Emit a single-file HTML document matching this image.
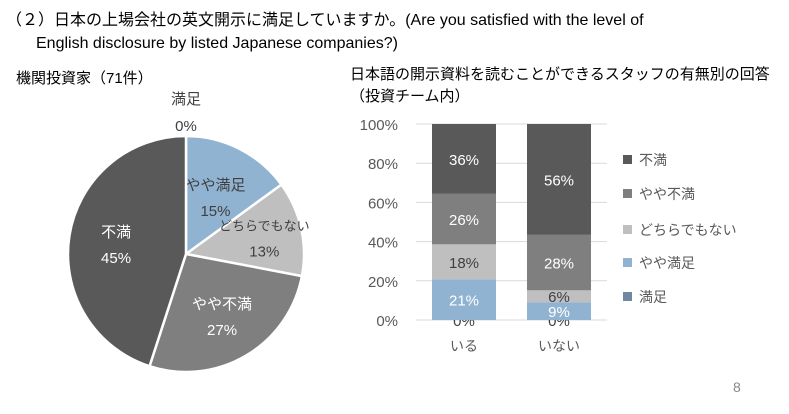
<!DOCTYPE html>
<html><head><meta charset="utf-8"><style>
body{margin:0;width:789px;height:414px;background:#fff;overflow:hidden;font-family:"Liberation Sans","Noto Sans CJK JP",sans-serif;}
.t{position:absolute;white-space:nowrap;color:#000;}
</style></head><body>
<div class="t" style="left:6px;top:9px;font-size:16px;line-height:23px;">（２）日本の上場会社の英文開示に満足していますか。(Are you satisfied with the level of<br><span style="padding-left:30px">English disclosure by listed Japanese companies?)</span></div>
<div class="t" style="left:16px;top:67px;font-size:15px;">機関投資家（71件）</div>
<div class="t" style="left:350px;top:64px;font-size:15px;line-height:22px;">日本語の開示資料を読むことができるスタッフの有無別の回答<br>（投資チーム内）</div>
<div class="t" style="left:733px;top:379px;font-size:14px;color:#888;">8</div>
<svg id="c" width="789" height="414" style="position:absolute;left:0;top:0"></svg>
<script>
const cats=["満足","やや満足","どちらでもない","やや不満","不満"];
const colors=["#6f87a0","#91b3d2","#bfbfbf","#7f7f7f","#595959"];
const pieValues=[0,15,13,27,45];
const barCats=["いる","いない"];
const barValues=[[0,21,18,26,36],[0,9,6,28,56]];
const yTicks=[0,20,40,60,80,100];
const NS="http://www.w3.org/2000/svg";
const svg=document.getElementById("c");
function mk(tag,attrs,parent){const e=document.createElementNS(NS,tag);for(const k in attrs)e.setAttribute(k,attrs[k]);(parent||svg).appendChild(e);return e;}
function txt(x,y,s,fill,size,anchor){const e=mk("text",{x:x,y:y,fill:fill,"font-size":size,"text-anchor":anchor||"middle","font-family":"Liberation Sans, Noto Sans CJK JP, sans-serif"});e.textContent=s;return e;}
// pie
const cx=186,cy=254,r=118;
const tot=pieValues.reduce((a,b)=>a+b,0);
let a0=0;
const pieLabelPos=[[0,0],[0.55,0],[0.68,0],[0.6,0],[0.6,0]];
const textCol=["#404040","#404040","#404040","#fff","#fff"];
pieValues.forEach((v,i)=>{
  const a1=a0+v/tot*2*Math.PI;
  const p=ang=>[cx+r*Math.sin(ang),cy-r*Math.cos(ang)];
  const [x0,y0]=p(a0),[x1,y1]=p(a1);
  if(v>0){
    const path=mk("path",{d:`M${cx},${cy}L${x0},${y0}A${r},${r} 0 ${a1-a0>Math.PI?1:0} 1 ${x1},${y1}Z`,fill:colors[i],stroke:"#fff","stroke-width":2.5});
    
    
    const m=(a0+a1)/2,rr=r*pieLabelPos[i][0];
    const lx=cx+rr*Math.sin(m),ly=cy-rr*Math.cos(m);
    const sz=i==2?13:15;
    const l1=txt(lx,ly-6,cats[i],textCol[i],sz);
    
    
    const l2=txt(lx,ly+20,v+"%",textCol[i],15);
    
    
  } else {
    const l1=txt(cx,104,cats[i],"#404040",15);
    
    
    const l2=txt(cx,131,v+"%","#404040",15);
    
    
  }
  a0=a1;
});
// bars
const y0px=320,y100=124;
const yS=v=>y0px-(v/100)*(y0px-y100);
yTicks.forEach(t=>{
  const g=mk("line",{x1:416,x2:607,y1:yS(t),y2:yS(t),stroke:"#d9d9d9","stroke-width":1});
  
  
  const l=txt(398,yS(t)+6,t+"%","#595959",15,"end");
  
  
});
const barX=[432,527],bw=64;
const barTextCol=["#404040","#fff","#404040","#fff","#fff"];
barValues.forEach((vals,bi)=>{
  const s=vals.reduce((a,b)=>a+b,0);
  let acc=0;
  vals.forEach((v,i)=>{
    const p0=acc/s*100,p1=(acc+v)/s*100;acc+=v;
    const rc=mk("rect",{x:barX[bi],y:yS(p1),width:bw,height:yS(p0)-yS(p1),fill:colors[i]});
    
    
    const l=txt(barX[bi]+bw/2,(yS(p0)+yS(p1))/2+6,v+"%",barTextCol[i],15);
    
    
  });
  const cl=txt(barX[bi]+bw/2,351,barCats[bi],"#595959",14);
  
  
});
// legend
const legY=[297,263,230,194,160];
cats.forEach((c,i)=>{
  const sq=mk("rect",{x:623,y:legY[i]-5,width:9,height:9,fill:colors[i]});
  
  
  const l=txt(639,legY[i]+5,c,"#595959",14,"start");
  
  
});
</script>
</body></html>
